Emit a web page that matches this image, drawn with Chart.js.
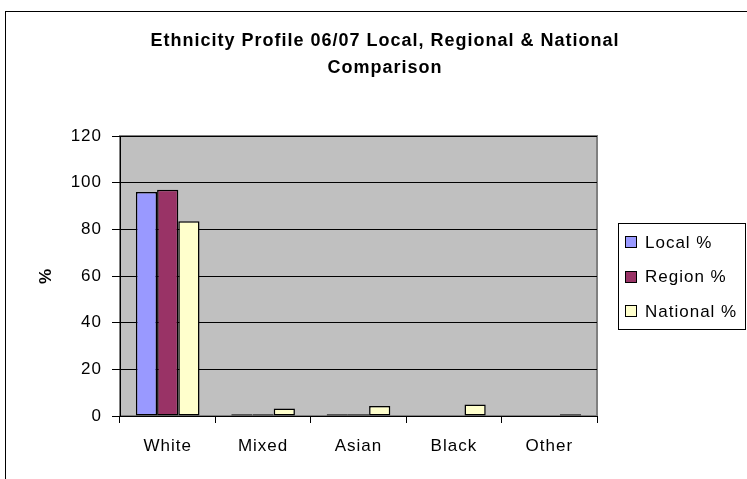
<!DOCTYPE html>
<html>
<head>
<meta charset="utf-8">
<script src="https://cdn.jsdelivr.net/npm/chart.js@4.4.0/dist/chart.umd.min.js"></script>
<style>
  html, body { margin: 0; padding: 0; background: #fff; }
</style>
</head>
<body>
<canvas id="myChart" width="747" height="479"></canvas>
<script>
let categories = ['White', 'Mixed', 'Asian', 'Black', 'Other'];
let localPct = [96, 0.8, 0.8, 0, 0];
let regionPct = [97, 0.8, 0.8, 0, 0];
let nationalPct = [83.5, 3.2, 4.3, 4.9, 0.8];
let seriesNames = ['Local %', 'Region %', 'National %'];
let seriesColors = ['#9999FF', '#993366', '#FFFFCC'];
let titleLines = ['Ethnicity Profile 06/07 Local, Regional & National', 'Comparison'];
let yTicks = [0, 20, 40, 60, 80, 100, 120];

const FONT = "'Liberation Sans', Arial, sans-serif";
Chart.defaults.font.family = FONT;
Chart.defaults.color = '#000';

// Excel spreads its letters a little, so widen all canvas text by 1px
function widen(chart) { chart.ctx.letterSpacing = '1px'; }

const excelLook = {
  id: 'excelLook',
  beforeLayout: widen,
  beforeDraw(chart) {
    const { ctx, chartArea: a } = chart;
    widen(chart);
    ctx.save();
    ctx.fillStyle = '#fff';
    ctx.fillRect(0, 0, chart.width, chart.height);
    // outer chart frame (runs off the right and bottom of the picture)
    ctx.strokeStyle = '#000';
    ctx.lineWidth = 1;
    ctx.strokeRect(5.5, 11.5, chart.width, chart.height);
    // grey plot area
    ctx.fillStyle = '#C0C0C0';
    ctx.fillRect(a.left, a.top, a.right - a.left, a.bottom - a.top);
    ctx.strokeStyle = '#808080';
    ctx.lineWidth = 2;
    ctx.strokeRect(a.left, a.top, a.right - a.left, a.bottom - a.top);
    ctx.restore();
  },
  afterDraw(chart) {
    const { ctx, chartArea: a } = chart;
    ctx.save();
    // title
    ctx.fillStyle = '#000';
    ctx.font = 'bold 18px ' + FONT;
    ctx.textAlign = 'center';
    ctx.textBaseline = 'alphabetic';
    titleLines.forEach((line, i) => ctx.fillText(line, 385, 46 + i * 27));

    // legend box
    const lx = a.right + 21;
    const ly = Math.round((a.top + a.bottom) / 2) - 53;
    ctx.strokeStyle = '#000';
    ctx.lineWidth = 1;
    ctx.strokeRect(lx + 0.5, ly + 0.5, 127, 106);
    ctx.font = '17px ' + FONT;
    ctx.textAlign = 'left';
    ctx.textBaseline = 'middle';
    chart.data.datasets.forEach((ds, i) => {
      const cy = ly + 19 + i * 34.5;
      ctx.fillStyle = ds.backgroundColor;
      ctx.fillRect(lx + 7, Math.round(cy - 6), 12, 12);
      ctx.strokeRect(lx + 7.5, Math.round(cy - 6) + 0.5, 11, 11);
      ctx.fillStyle = '#000';
      ctx.fillText(ds.label, lx + 27, cy + 1);
    });
    ctx.restore();
  }
};

let ctx = document.getElementById('myChart').getContext('2d');

let chart = new Chart(ctx, {
  type: 'bar',
  data: {
    labels: categories,
    datasets: [
      { label: seriesNames[0], data: localPct, backgroundColor: seriesColors[0], borderColor: '#000', borderWidth: 1.5 },
      { label: seriesNames[1], data: regionPct, backgroundColor: seriesColors[1], borderColor: '#000', borderWidth: 1.5 },
      { label: seriesNames[2], data: nationalPct, backgroundColor: seriesColors[2], borderColor: '#000', borderWidth: 1.5 }
    ]
  },
  options: {
    responsive: false,
    animation: false,
    devicePixelRatio: 1,
    layout: { padding: { left: 5, right: 150, top: 136, bottom: 0 } },
    datasets: {
      bar: {
        categoryPercentage: 0.667,
        barPercentage: 1,
        borderSkipped: false
      }
    },
    plugins: {
      legend: { display: false },
      title: { display: false },
      tooltip: { enabled: false }
    },
    scales: {
      x: {
        grid: { display: true, drawOnChartArea: false, offset: true, color: '#000', tickLength: 7 },
        border: { color: '#000' },
        ticks: { font: { size: 17 }, padding: 13, maxRotation: 0 },
        afterFit(s) { s.height = 63; }
      },
      y: {
        min: yTicks[0],
        max: yTicks[yTicks.length - 1],
        afterBuildTicks(s) { s.ticks = yTicks.map(v => ({ value: v })); },
        ticks: { font: { size: 17 }, padding: 10 },
        grid: { color: '#000', tickLength: 8 },
        border: { color: '#000' },
        title: {
          display: true,
          text: '%',
          font: { size: 17, weight: 'bold' },
          padding: { top: 31, bottom: 0 }
        },
        afterFit(s) { s.width = 115; }
      }
    }
  },
  plugins: [excelLook]
});
</script>
</body>
</html>
